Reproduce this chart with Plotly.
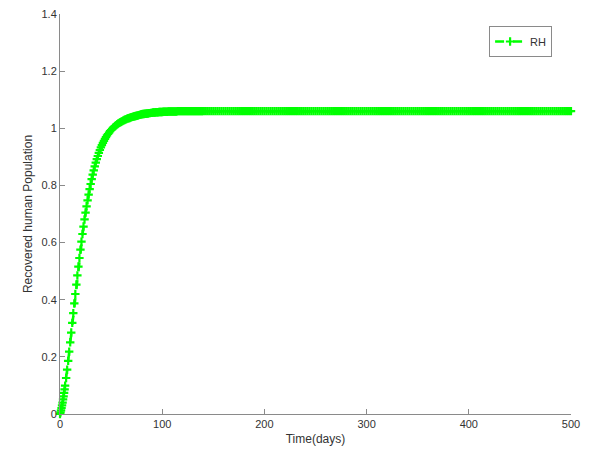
import plotly.graph_objects as go

# time grid (days)
t_early = [0, 0.5, 1, 1.5, 2, 2.5, 3, 3.5, 4, 4.5, 5] + list(range(6, 141))
t_late = list(range(142, 501, 2))

# Recovered human population RH
rh_early = [
    0.000, 0.006, 0.013, 0.021, 0.030, 0.040, 0.051, 0.062, 0.074, 0.086, 0.099,
    0.126, 0.155, 0.186, 0.218, 0.251, 0.285, 0.319, 0.353, 0.387, 0.420,
    0.453, 0.485, 0.516, 0.546, 0.575, 0.603, 0.630, 0.656, 0.681, 0.705,
    0.727, 0.748, 0.768, 0.787, 0.805, 0.822, 0.838, 0.853, 0.867, 0.880,
    0.892, 0.903, 0.914, 0.924, 0.933, 0.941, 0.949, 0.956, 0.963, 0.969,
    0.975, 0.980, 0.985, 0.990, 0.994, 0.998, 1.002, 1.005, 1.008, 1.011,
    1.014, 1.017, 1.019, 1.021, 1.023, 1.025, 1.027, 1.029, 1.031, 1.032,
    1.034, 1.035, 1.036, 1.038, 1.039, 1.040, 1.041, 1.042, 1.043, 1.044,
    1.045, 1.046, 1.047, 1.048, 1.049, 1.050, 1.050, 1.051, 1.051, 1.052,
    1.052, 1.053, 1.053, 1.054, 1.054, 1.055, 1.055, 1.055, 1.056, 1.056,
    1.056, 1.057, 1.057, 1.057, 1.057, 1.058, 1.058, 1.058, 1.058, 1.058,
    1.059, 1.059, 1.059, 1.059, 1.059, 1.059, 1.059, 1.059, 1.059, 1.060,
    1.060, 1.060, 1.060, 1.060, 1.060, 1.060, 1.060, 1.060, 1.060, 1.060,
    1.060, 1.060, 1.060, 1.060, 1.060, 1.060, 1.060, 1.060, 1.060, 1.060,
    1.060, 1.060, 1.060, 1.060, 1.060,
]
rh_late = [
    1.060, 1.060, 1.060, 1.060, 1.060, 1.060, 1.060, 1.060, 1.060, 1.060,
    1.060, 1.060, 1.060, 1.060, 1.060, 1.060, 1.060, 1.060, 1.060, 1.060,
    1.060, 1.060, 1.060, 1.060, 1.060, 1.060, 1.060, 1.060, 1.060, 1.060,
    1.060, 1.060, 1.060, 1.060, 1.060, 1.060, 1.060, 1.060, 1.060, 1.060,
    1.060, 1.060, 1.060, 1.060, 1.060, 1.060, 1.060, 1.060, 1.060, 1.060,
    1.060, 1.060, 1.060, 1.060, 1.060, 1.060, 1.060, 1.060, 1.060, 1.060,
    1.060, 1.060, 1.060, 1.060, 1.060, 1.060, 1.060, 1.060, 1.060, 1.060,
    1.060, 1.060, 1.060, 1.060, 1.060, 1.060, 1.060, 1.060, 1.060, 1.060,
    1.060, 1.060, 1.060, 1.060, 1.060, 1.060, 1.060, 1.060, 1.060, 1.060,
    1.060, 1.060, 1.060, 1.060, 1.060, 1.060, 1.060, 1.060, 1.060, 1.060,
    1.060, 1.060, 1.060, 1.060, 1.060, 1.060, 1.060, 1.060, 1.060, 1.060,
    1.060, 1.060, 1.060, 1.060, 1.060, 1.060, 1.060, 1.060, 1.060, 1.060,
    1.060, 1.060, 1.060, 1.060, 1.060, 1.060, 1.060, 1.060, 1.060, 1.060,
    1.060, 1.060, 1.060, 1.060, 1.060, 1.060, 1.060, 1.060, 1.060, 1.060,
    1.060, 1.060, 1.060, 1.060, 1.060, 1.060, 1.060, 1.060, 1.060, 1.060,
    1.060, 1.060, 1.060, 1.060, 1.060, 1.060, 1.060, 1.060, 1.060, 1.060,
    1.060, 1.060, 1.060, 1.060, 1.060, 1.060, 1.060, 1.060, 1.060, 1.060,
    1.060, 1.060, 1.060, 1.060, 1.060, 1.060, 1.060, 1.060, 1.060, 1.060,
]

t_all = t_early + t_late
rh_all = rh_early + rh_late

x_ticks = [0, 100, 200, 300, 400, 500]
y_ticks = [0, 0.2, 0.4, 0.6, 0.8, 1, 1.2, 1.4]

GREEN = "#00ff00"
AXIS = "#8a8a8a"
TEXT = "#333333"
FONT = "Liberation Sans, Arial, sans-serif"

fig = go.Figure()
fig.add_trace(go.Scatter(
    x=t_all, y=rh_all, name="RH", mode="lines+markers",
    line=dict(color=GREEN, width=2.5, dash="dash"),
    marker=dict(symbol="cross-thin", size=6, color=GREEN,
                line=dict(color=GREEN, width=2.2)),
    cliponaxis=False,
))

fig.update_layout(
    width=576, height=438,
    margin=dict(l=52, r=13, t=6, b=32),
    paper_bgcolor="white", plot_bgcolor="white",
    font=dict(family=FONT, size=11, color=TEXT),
    showlegend=True,
    legend=dict(x=0.963, y=0.97, xanchor="right", yanchor="top",
                bgcolor="white", bordercolor=AXIS, borderwidth=1,
                font=dict(size=11, color=TEXT),
                itemwidth=30, tracegroupgap=0),
)
fig.update_xaxes(
    range=[0, 500], tickvals=x_ticks, ticks="inside", ticklen=5,
    tickcolor=AXIS, showline=True, linecolor=AXIS, linewidth=1,
    showgrid=False, zeroline=False, mirror=False,
    ticklabeloverflow="allow",
    title=dict(text="Time(days)", font=dict(size=12, color=TEXT), standoff=6),
    automargin=False,
)
fig.update_yaxes(
    range=[0, 1.4], tickvals=y_ticks, ticks="inside", ticklen=5,
    tickcolor=AXIS, showline=True, linecolor=AXIS, linewidth=1,
    showgrid=False, zeroline=False, mirror=False,
    ticklabeloverflow="allow",
    title=dict(text="Recovered human Population", font=dict(size=12, color=TEXT), standoff=6),
    automargin=False,
)

fig.write_html("out.html")
